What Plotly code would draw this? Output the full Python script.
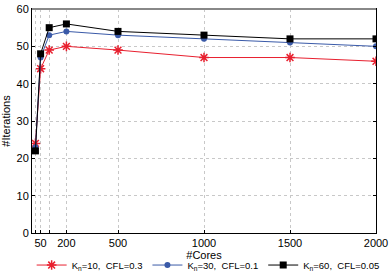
import plotly.graph_objects as go

cores = [20, 50, 100, 200, 500, 1000, 1500, 2000]
kn10 = [24, 44, 49, 50, 49, 47, 47, 46]
kn30 = [23, 47, 53, 54, 53, 52, 51, 50]
kn60 = [22, 48, 55, 56, 54, 53, 52, 52]
names = ["K<sub>n</sub>=10,  CFL=0.3", "K<sub>n</sub>=30,  CFL=0.1", "K<sub>n</sub>=60,  CFL=0.05"]
xtickvals = [50, 200, 500, 1000, 1500, 2000]
xminorvals = [20, 100]
ytickvals = [0, 10, 20, 30, 40, 50, 60]

fig = go.Figure()
fig.add_trace(go.Scatter(x=cores, y=kn10, name=names[0], mode="lines+markers",
                         line=dict(color="#e8202f", width=1),
                         marker=dict(symbol="asterisk-open", size=8,
                                     line=dict(color="#e8202f", width=1.5))))
fig.add_trace(go.Scatter(x=cores, y=kn30, name=names[1], mode="lines+markers",
                         line=dict(color="#3a5aa8", width=1),
                         marker=dict(symbol="circle", size=6, color="#3a5aa8")))
fig.add_trace(go.Scatter(x=cores, y=kn60, name=names[2], mode="lines+markers",
                         line=dict(color="#000000", width=1),
                         marker=dict(symbol="square", size=7, color="#000000")))

fig.update_layout(
    width=390, height=273,
    margin=dict(l=32, r=14, t=9, b=40, autoexpand=False),
    paper_bgcolor="white", plot_bgcolor="white",
    font=dict(family="Liberation Sans, Arial, sans-serif", size=11, color="black"),
    showlegend=True,
    legend=dict(orientation="h", x=-0.001, xanchor="left", y=-0.143, yanchor="middle",
                font=dict(size=9.5), itemwidth=30, tracegroupgap=0,
                bgcolor="rgba(0,0,0,0)", borderwidth=0),
    xaxis=dict(range=[0, 2000], tickvals=xtickvals,
               showgrid=True, gridcolor="#c8c8c8", griddash="dot", gridwidth=1,
               minor=dict(tickvals=xminorvals, showgrid=True, gridcolor="#c8c8c8",
                          griddash="dot", gridwidth=1, ticks="inside", ticklen=3,
                          tickcolor="black"),
               showline=True, linecolor="black", linewidth=1, mirror=True,
               ticks="inside", ticklen=3, tickcolor="black",
               title=dict(text="#Cores", standoff=2, font=dict(size=11)),
               zeroline=False, tickfont=dict(size=11), automargin=False),
    yaxis=dict(range=[0, 60], tickvals=ytickvals,
               showgrid=True, gridcolor="#c8c8c8", griddash="dot", gridwidth=1,
               showline=True, linecolor="black", linewidth=1, mirror="ticks",
               ticks="inside", ticklen=3, tickcolor="black",
               title=dict(text="#Iterations", standoff=4, font=dict(size=11)),
               zeroline=False, tickfont=dict(size=11), automargin=False),
)
fig.add_shape(type="line", xref="paper", yref="paper", x0=0, x1=1, y0=1, y1=1,
              line=dict(color="#888888", width=2))
fig.write_html("out.html", config={"displayModeBar": False},
               post_script="document.body.style.margin='0';document.body.style.overflow='hidden';")
